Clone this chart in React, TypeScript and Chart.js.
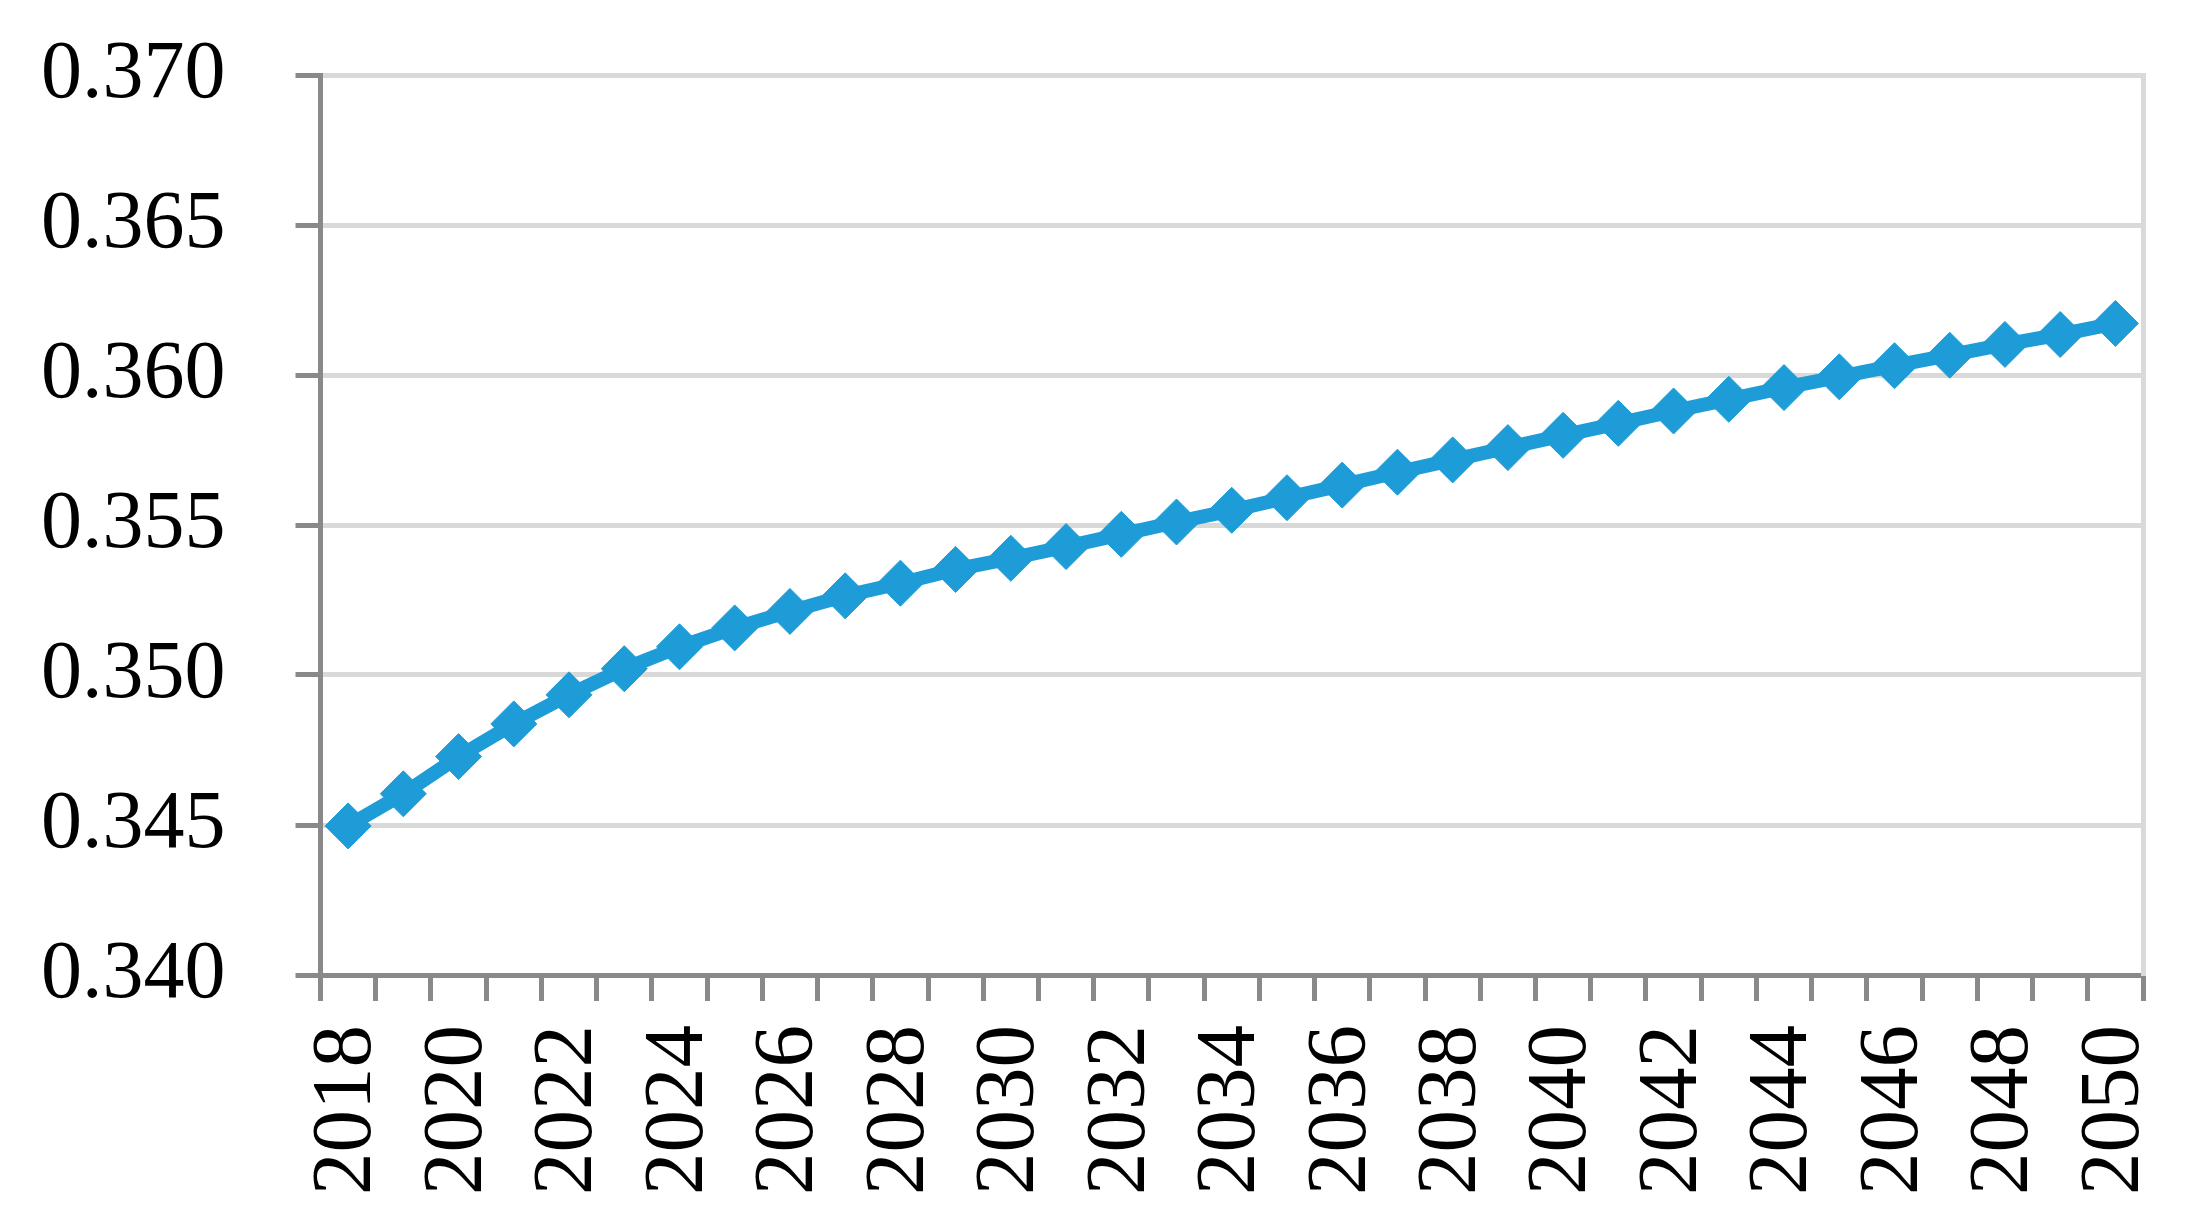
import React, { useEffect, useRef } from "react";
import { Chart, registerables } from "chart.js";

Chart.register(...registerables);

const years: string[] = [
  "2018", "2019", "2020", "2021", "2022", "2023", "2024", "2025", "2026", "2027", "2028",
  "2029", "2030", "2031", "2032", "2033", "2034", "2035", "2036", "2037", "2038", "2039",
  "2040", "2041", "2042", "2043", "2044", "2045", "2046", "2047", "2048", "2049", "2050",
];

const values: number[] = [
  0.34497, 0.34604, 0.34728, 0.34837, 0.34934, 0.35021, 0.35094, 0.35157, 0.35212, 0.35264,
  0.35306, 0.35352, 0.35389, 0.35428, 0.35469, 0.3551, 0.35549, 0.35591, 0.35633, 0.35676,
  0.35717, 0.35758, 0.35799, 0.35839, 0.3588, 0.35919, 0.35958, 0.35994, 0.36031, 0.36066,
  0.36102, 0.36135, 0.36172,
];

const yMin = 0.34;
const yMax = 0.37;
const yStep = 0.005;

export default function App() {
  const ref = useRef<HTMLCanvasElement | null>(null);

  useEffect(() => {
    document.body.style.margin = "0";
    if (!ref.current) return;
    const family = "'Liberation Serif', 'Times New Roman', serif";
    const zeroPad = (s: any) => {
      s.paddingTop = 0;
      s.paddingBottom = 0;
      s.paddingLeft = 0;
      s.paddingRight = 0;
    };
    const chart = new Chart(ref.current, {
      type: "line",
      data: {
        labels: years,
        datasets: [
          {
            data: values,
            borderColor: "#1e9cd7",
            backgroundColor: "#1e9cd7",
            borderWidth: 14,
            tension: 0,
            pointStyle: "rectRot",
            pointRadius: 23,
            pointBorderWidth: 1,
            pointBackgroundColor: "#1e9cd7",
            pointBorderColor: "#1e9cd7",
          },
        ],
      },
      options: {
        animation: false,
        responsive: false,
        devicePixelRatio: 1,
        layout: { padding: { top: 75, bottom: 9, left: -29, right: 45 } },
        plugins: { legend: { display: false }, tooltip: { enabled: false } },
        scales: {
          x: {
            type: "category",
            offset: true,
            afterFit: zeroPad,
            grid: {
              offset: true,
              drawOnChartArea: false,
              drawTicks: true,
              tickLength: 26,
              tickColor: "#898989",
              color: "#898989",
              lineWidth: 5,
            },
            border: { display: true, color: "#898989", width: 5 },
            ticks: {
              autoSkip: false,
              maxRotation: 90,
              minRotation: 90,
              padding: 24,
              color: "#000000",
              font: { family, size: 85 },
              callback: (_v: any, i: number) => (i % 2 === 0 ? years[i] : ""),
            },
          },
          y: {
            min: yMin,
            max: yMax,
            afterFit: zeroPad,
            grid: {
              color: "#d9d9d9",
              lineWidth: 5,
              tickLength: 25,
              tickColor: "#898989",
            },
            border: { display: true, color: "#898989", width: 5 },
            ticks: {
              stepSize: yStep,
              padding: 70,
              color: "#000000",
              font: { family, size: 82 },
              callback: (v: any) => Number(v).toFixed(3),
            },
          },
          y2: {
            position: "right",
            min: yMin,
            max: yMax,
            afterFit: zeroPad,
            grid: { display: true, drawOnChartArea: false, drawTicks: false },
            border: { display: true, color: "#d9d9d9", width: 5 },
            ticks: { display: false },
          },
        },
      },
    });
    return () => chart.destroy();
  }, []);

  return (
    <div style={{ width: 2188, height: 1228, background: "#ffffff" }}>
      <canvas ref={ref} width={2188} height={1228} style={{ display: "block" }} />
    </div>
  );
}
